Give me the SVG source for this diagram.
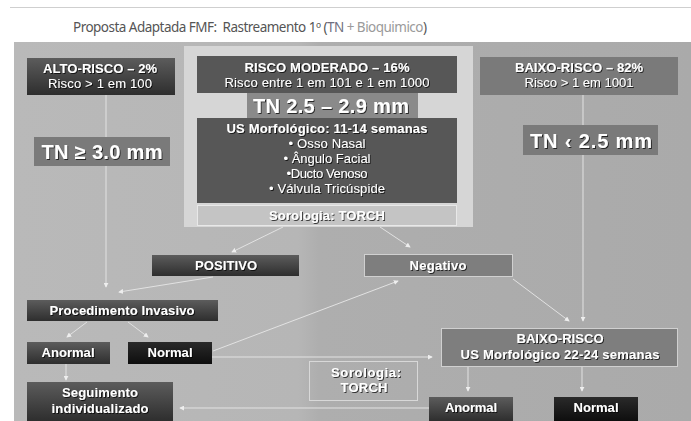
<svg xmlns="http://www.w3.org/2000/svg" width="691" height="421" viewBox="0 0 691 421">
<defs>
<linearGradient id="bg" x1="0" y1="0" x2="1" y2="0">
<stop offset="0" stop-color="#b9b9b9"/><stop offset="0.42" stop-color="#b6b6b6"/><stop offset="0.45" stop-color="#aeaeae"/><stop offset="1" stop-color="#aaaaaa"/>
</linearGradient>
<linearGradient id="dk" x1="0" y1="0" x2="0" y2="1">
<stop offset="0" stop-color="#5c5c5c"/><stop offset="1" stop-color="#2e2e2e"/>
</linearGradient>
<linearGradient id="bk" x1="0" y1="0" x2="0" y2="1">
<stop offset="0" stop-color="#2a2a2a"/><stop offset="1" stop-color="#0e0e0e"/>
</linearGradient>
<filter id="sh" x="-10%" y="-30%" width="120%" height="160%">
<feDropShadow dx="1" dy="1" stdDeviation="0.4" flood-color="#000" flood-opacity="0.7"/>
</filter>
<marker id="ar" viewBox="0 0 6 6" refX="5" refY="3" markerWidth="5" markerHeight="5" orient="auto" markerUnits="userSpaceOnUse">
<path d="M0,0 L6,3 L0,6 z" fill="#eeeeee"/>
</marker>
<style>
.t{font-family:"Liberation Sans",Arial,sans-serif;fill:#fff;text-anchor:middle;filter:url(#sh);font-size:13px}
.b{font-weight:bold}
.c{stroke:#e2e2e2;stroke-width:1;fill:none;marker-end:url(#ar)}
.dk{fill:url(#dk)}
.bk{fill:url(#bk)}
.md{fill:#7a7a7a}
.mdb{fill:#7e7e7e;stroke:#d0d0d0;stroke-width:1}
.big{font-size:20px;font-weight:bold}
</style>
</defs>
<rect width="691" height="421" fill="#ffffff"/>
<line x1="10" y1="7.5" x2="691" y2="7.5" stroke="#cfcfcf" stroke-width="1"/>
<text x="73" y="32" xml:space="preserve" font-family="'Noto Sans',sans-serif" font-size="13.5" fill="#555" textLength="354">Proposta Adaptada FMF:  Rastreamento 1º (<tspan fill="#6f6f80">TN</tspan> <tspan fill="#9a9a9a">+ Bioquimico</tspan>)</text>
<rect x="14" y="42" width="677" height="379" fill="url(#bg)"/>
<rect x="184" y="46" width="289" height="181" fill="#d6d6d6"/>

<g id="connectors">
<line class="c" x1="106" y1="95" x2="106" y2="287"/>
<line class="c" x1="283" y1="227" x2="232" y2="252"/>
<line class="c" x1="380" y1="227" x2="410" y2="247"/>
<line class="c" x1="213" y1="277" x2="119" y2="292"/>
<line class="c" x1="87" y1="322" x2="67" y2="337"/>
<line class="c" x1="128" y1="322" x2="148" y2="337"/>
<line class="c" x1="66" y1="364" x2="66" y2="380"/>
<line class="c" x1="213" y1="351" x2="398" y2="281"/>
<line class="c" x1="212" y1="357" x2="432" y2="357"/>
<line class="c" x1="513" y1="279" x2="569" y2="321"/>
<line class="c" x1="583" y1="95" x2="583" y2="321"/>
<line class="c" x1="468" y1="367" x2="468" y2="391"/>
<line class="c" x1="582" y1="367" x2="582" y2="391"/>
<line class="c" x1="429" y1="408" x2="180" y2="408"/>
</g>

<g id="alto-risco">
<rect class="dk" x="27" y="58" width="148" height="37"/>
<text class="t b" x="100" y="73" textLength="114">ALTO-RISCO – 2%</text>
<text class="t" x="100" y="88" textLength="104">Risco &gt; 1 em 100</text>
</g>
<g id="tn-alto">
<rect class="md" x="34" y="137" width="136" height="29"/>
<text class="t big" x="102" y="159" textLength="121">TN ≥ 3.0 mm</text>
</g>
<g id="risco-moderado">
<rect fill="#575757" x="197" y="56" width="260" height="37"/>
<text class="t b" x="327" y="72" textLength="165">RISCO MODERADO – 16%</text>
<text class="t" x="327" y="87" textLength="205">Risco entre 1 em 101 e 1 em 1000</text>
</g>
<g id="tn-moderado">
<rect fill="#8a8a8a" x="247" y="93" width="171" height="25"/>
<text class="t big" x="331" y="113" font-size="21" textLength="156">TN 2.5 – 2.9 mm</text>
</g>
<g id="us-morfologico">
<rect fill="#575757" x="197" y="118" width="260" height="85"/>
<text class="t b" x="327" y="133" textLength="201">US Morfológico: 11-14 semanas</text>
<text class="t" x="327" y="148" textLength="77">• Osso Nasal</text>
<text class="t" x="327" y="163" textLength="87">• Ângulo Facial</text>
<text class="t" x="327" y="178" textLength="81">•Ducto Venoso</text>
<text class="t" x="327" y="193" textLength="116">• Válvula Tricúspide</text>
</g>
<g id="sorologia-top">
<rect fill="#c4c4c4" stroke="#e8e8e8" x="197.5" y="205.5" width="259" height="20"/>
<text class="t b" x="327" y="220" textLength="116">Sorologia: TORCH</text>
</g>
<g id="baixo-risco">
<rect class="md" x="480" y="57" width="198" height="38"/>
<text class="t b" x="579" y="72" textLength="128">BAIXO-RISCO – 82%</text>
<text class="t" x="579" y="87" textLength="109">Risco &gt; 1 em 1001</text>
</g>
<g id="tn-baixo">
<rect class="md" x="523" y="125" width="135" height="30"/>
<text class="t big" x="591" y="148" textLength="122">TN ‹ 2.5 mm</text>
</g>
<g id="positivo">
<rect class="dk" x="152" y="255" width="147" height="21"/>
<text class="t b" x="226" y="270" textLength="62">POSITIVO</text>
</g>
<g id="negativo">
<rect class="mdb" x="364.5" y="254.5" width="148" height="22"/>
<text class="t b" x="438" y="270" textLength="57">Negativo</text>
</g>
<g id="procedimento">
<rect class="dk" x="27" y="300" width="191" height="21"/>
<text class="t b" x="122" y="315" textLength="145">Procedimento Invasivo</text>
</g>
<g id="anormal-1">
<rect class="dk" x="27" y="342" width="83" height="22"/>
<text class="t b" x="68" y="357" textLength="53">Anormal</text>
</g>
<g id="normal-1">
<rect class="bk" x="128" y="342" width="84" height="22"/>
<text class="t b" x="170" y="357" textLength="45">Normal</text>
</g>
<g id="seguimento">
<rect class="dk" x="27" y="382" width="146" height="39"/>
<text class="t b" x="100" y="397" textLength="76">Seguimento</text>
<text class="t b" x="100" y="413" textLength="97">individualizado</text>
</g>
<g id="sorologia-bottom">
<rect fill="none" stroke="#d8d8d8" x="309.5" y="361.5" width="108" height="39"/>
<text class="t b" x="366" y="377" textLength="70">Sorologia:</text>
<text class="t b" x="364" y="392" textLength="47">TORCH</text>
</g>
<g id="baixo-risco-us">
<rect class="mdb" x="441.5" y="328.5" width="236" height="38"/>
<text class="t b" x="560" y="343" textLength="87">BAIXO-RISCO</text>
<text class="t b" x="560" y="359" textLength="199">US Morfológico 22-24 semanas</text>
</g>
<g id="anormal-2">
<rect class="dk" x="429" y="397" width="84" height="24"/>
<text class="t b" x="471" y="412" textLength="52">Anormal</text>
</g>
<g id="normal-2">
<rect class="bk" x="554" y="397" width="84" height="24"/>
<text class="t b" x="596" y="412" textLength="45">Normal</text>
</g>
</svg>
